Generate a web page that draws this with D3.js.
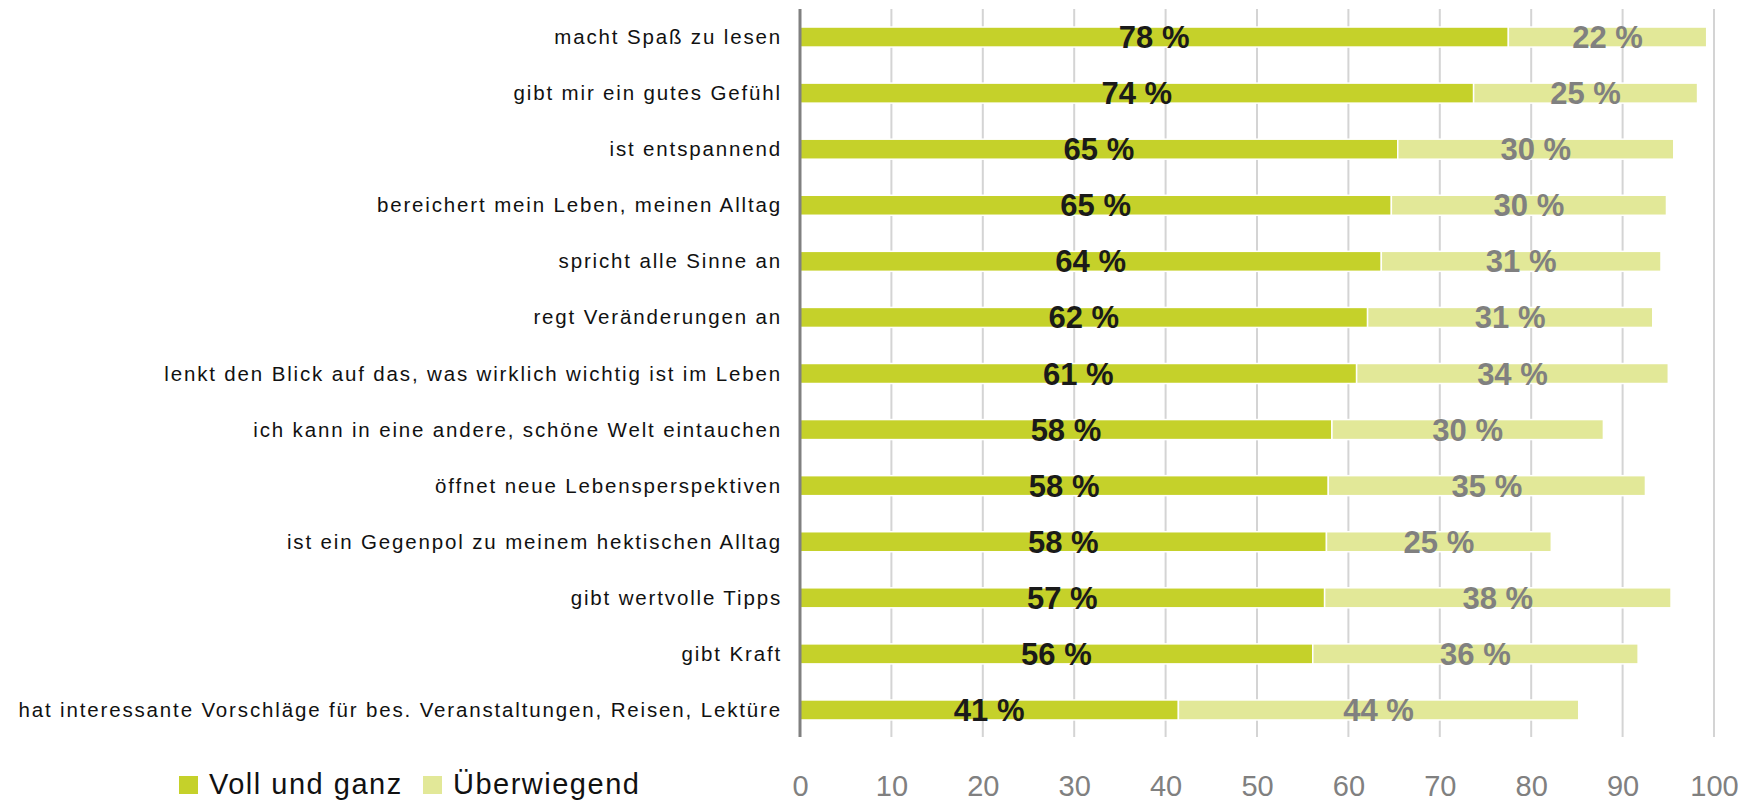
<!DOCTYPE html>
<html>
<head>
<meta charset="utf-8">
<script src="https://cdn.jsdelivr.net/npm/d3@7"></script>
<style>
  body { margin: 0; background: #fff; }
  svg { display: block; font-family: "Liberation Sans", Arial, sans-serif; }
</style>
</head>
<body>
<script>
// Data
var categories = [
  'macht Spaß zu lesen',
  'gibt mir ein gutes Gefühl',
  'ist entspannend',
  'bereichert mein Leben, meinen Alltag',
  'spricht alle Sinne an',
  'regt Veränderungen an',
  'lenkt den Blick auf das, was wirklich wichtig ist im Leben',
  'ich kann in eine andere, schöne Welt eintauchen',
  'öffnet neue Lebensperspektiven',
  'ist ein Gegenpol zu meinem hektischen Alltag',
  'gibt wertvolle Tipps',
  'gibt Kraft',
  'hat interessante Vorschläge für bes. Veranstaltungen, Reisen, Lektüre'
];
var vollUndGanz = [77.5, 73.7, 65.4, 64.7, 63.6, 62.1, 60.9, 58.2, 57.8, 57.6, 57.4, 56.1, 41.4];
var ueberwiegend = [21.7, 24.5, 30.2, 30.1, 30.6, 31.2, 34.1, 29.7, 34.7, 24.6, 37.9, 35.6, 43.8];
var seriesNames = ['Voll und ganz', 'Überwiegend'];
var tickValues = [0, 10, 20, 30, 40, 50, 60, 70, 80, 90, 100];

var colors = ['#c5d12a', '#e2e898'];
var labelColors = ['#1a1a1a', '#808080'];

var width = 1758, height = 803;

var svg = d3.select('body').append('svg').attr('width', width).attr('height', height);

var x = d3.scaleLinear().domain([0, 100]).range([800, 1714]);
var y = d3.scaleBand().domain(categories).range([9, 738]).paddingInner(0.643).paddingOuter(0.3215);

// Gridlines
svg.append('g')
  .selectAll('line')
  .data(tickValues.slice(1))
  .enter()
  .append('line')
  .attr('x1', d => x(d))
  .attr('x2', d => x(d))
  .attr('y1', y.range()[0])
  .attr('y2', 737)
  .attr('stroke', '#d4d4d4')
  .attr('stroke-width', 2);

// Stacked rows
var rows = categories.map((c, i) => ({ cat: c, parts: [
  { s: 0, v0: 0, v1: vollUndGanz[i] },
  { s: 1, v0: vollUndGanz[i], v1: vollUndGanz[i] + ueberwiegend[i] }
]}));

var row = svg.append('g').selectAll('g')
  .data(rows)
  .enter()
  .append('g');

row.selectAll('rect')
  .data(d => d.parts.map(p => Object.assign({ cat: d.cat }, p)))
  .enter()
  .append('rect')
  .attr('x', d => x(d.v0))
  .attr('y', d => y(d.cat))
  .attr('width', d => x(d.v1) - x(d.v0))
  .attr('height', y.bandwidth())
  .attr('fill', d => colors[d.s])
  .attr('stroke', '#fff')
  .attr('stroke-width', 1.5);

row.selectAll('text')
  .data(d => d.parts.map(p => Object.assign({ cat: d.cat }, p)))
  .enter()
  .append('text')
  .attr('x', d => (x(d.v0) + x(d.v1)) / 2)
  .attr('y', d => y(d.cat) + y.bandwidth() / 2 + 11)
  .attr('text-anchor', 'middle')
  .attr('font-size', '31px')
  .attr('font-weight', 'bold')
  .attr('fill', d => labelColors[d.s])
  .text(d => Math.round(d.v1 - d.v0) + ' %');

// Category labels
svg.append('g')
  .selectAll('text')
  .data(categories)
  .enter()
  .append('text')
  .attr('x', 782)
  .attr('y', d => y(d) + y.bandwidth() / 2 + 7)
  .attr('text-anchor', 'end')
  .attr('font-size', '20.5px')
  .attr('letter-spacing', '1.85px')
  .attr('fill', '#111')
  .text(d => d);

// Vertical axis line
svg.append('line')
  .attr('x1', x(0))
  .attr('x2', x(0))
  .attr('y1', 9)
  .attr('y2', 737)
  .attr('stroke', '#808080')
  .attr('stroke-width', 3);

// X axis labels
var xAxis = svg.append('g')
  .attr('transform', 'translate(0,737)')
  .call(d3.axisBottom(x).tickValues(tickValues).tickSize(0).tickPadding(38));
xAxis.select('.domain').remove();
xAxis.selectAll('text')
  .attr('font-size', '29px')
  .attr('font-family', '"Liberation Sans", Arial, sans-serif')
  .attr('fill', '#808080');

// Legend
var legendX = [179, 423];
var legend = svg.append('g').selectAll('g')
  .data(seriesNames)
  .enter()
  .append('g')
  .attr('transform', (d, i) => 'translate(' + legendX[i] + ',776)');

legend.append('rect')
  .attr('width', 19)
  .attr('height', 18)
  .attr('fill', (d, i) => colors[i]);

legend.append('text')
  .attr('x', 30)
  .attr('y', 18)
  .attr('font-size', '29px')
  .attr('letter-spacing', '1.5px')
  .attr('fill', '#111')
  .text(d => d);
</script>
</body>
</html>
